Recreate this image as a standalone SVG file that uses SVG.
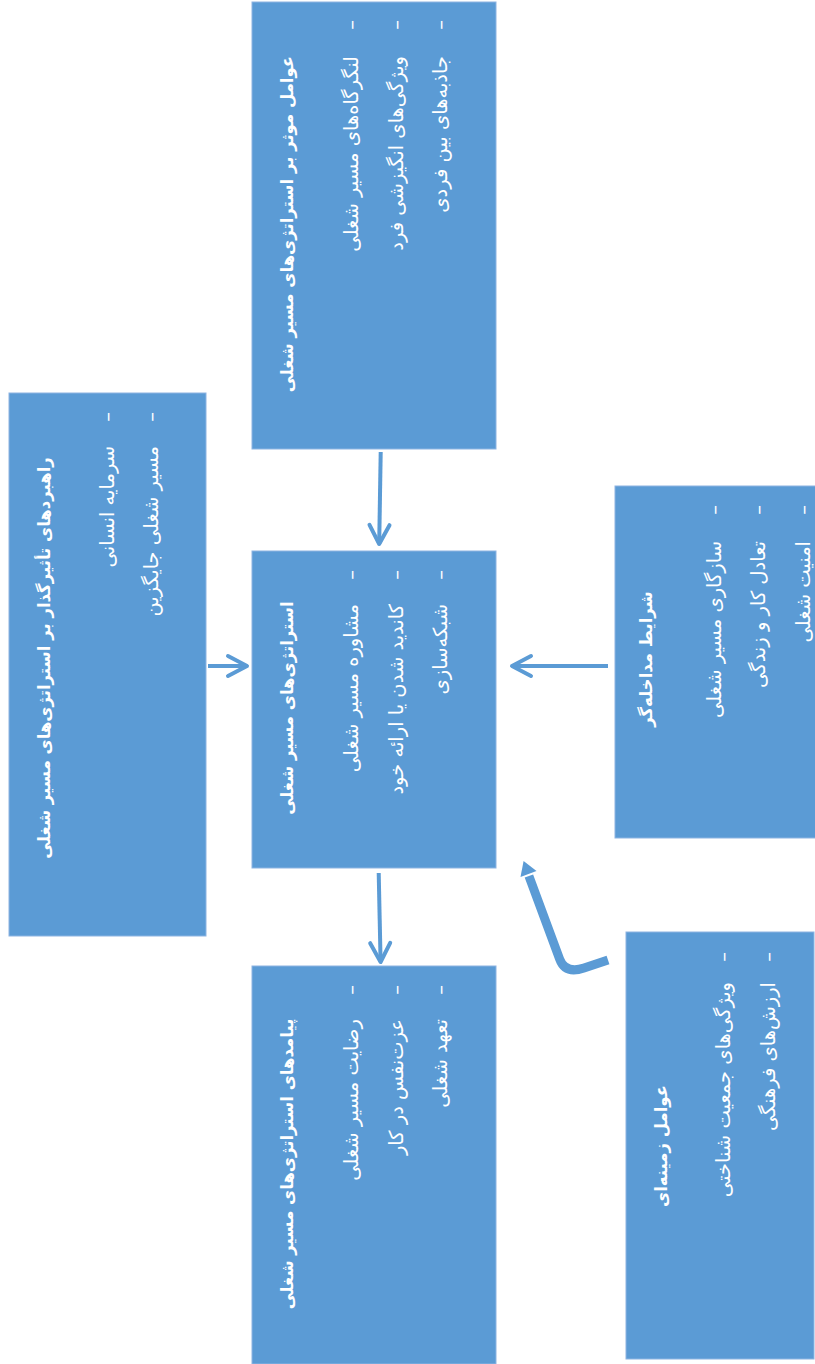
<svg xmlns="http://www.w3.org/2000/svg" width="815" height="1364" viewBox="0 0 815 1364">
<style>
.box{fill:#5B9BD5;stroke:#8DB4E2;stroke-width:1}
.t{font-family:"DejaVu Sans",sans-serif;fill:#fff;font-size:16.5px;font-weight:bold;text-anchor:middle}
.b{font-family:"DejaVu Sans",sans-serif;fill:#fff;font-size:19.5px;text-anchor:end}
.c{fill:none;stroke:#5B9BD5;stroke-width:4}
</style>
<defs>
<marker id="open" markerUnits="userSpaceOnUse" markerWidth="30" markerHeight="30" refX="20" refY="11" orient="auto" overflow="visible">
<path d="M1,1 L20,11 L1,21" fill="none" stroke="#5B9BD5" stroke-width="4" stroke-linecap="round" stroke-linejoin="round"/>
</marker>
</defs>
<rect width="815" height="1364" fill="#fff"/>

<g id="connectors">
<path class="c" d="M380.7,452 L379.2,544" marker-end="url(#open)"/>
<path class="c" d="M378.7,873 L380.6,962" marker-end="url(#open)"/>
<path class="c" d="M208,666 L247,666" marker-end="url(#open)"/>
<path class="c" d="M608,666 L512,666" marker-end="url(#open)"/>
<path d="M608,960 L584,968 Q565.2,974.3 559.6,959 L528.9,876" fill="none" stroke="#5B9BD5" stroke-width="9"/>
<polygon points="523.6,860.9 536.5,871 520.5,877" fill="#5B9BD5"/>
</g>

<g id="node-a">
<rect class="box" x="252" y="2" width="244" height="447"/>
<text class="t" transform="translate(293,224) rotate(-90)">عوامل موثر بر استراتژی‌های مسیر شغلی</text>
<text class="b" transform="translate(358,20) rotate(-90)">–</text>
<text class="b" transform="translate(403,20) rotate(-90)">–</text>
<text class="b" transform="translate(447,20) rotate(-90)">–</text>
<text class="b" transform="translate(358,56) rotate(-90)">لنگرگاه‌های مسیر شغلی</text>
<text class="b" transform="translate(403,56) rotate(-90)">ویژگی‌های انگیزشی فرد</text>
<text class="b" transform="translate(447,56) rotate(-90)">جاذبه‌های بین فردی</text>
</g>

<g id="node-b">
<rect class="box" x="9" y="393" width="197" height="543"/>
<text class="t" transform="translate(50,658) rotate(-90)">راهبردهای تأثیرگذار بر استراتژی‌های مسیر شغلی</text>
<text class="b" transform="translate(114,412) rotate(-90)">–</text>
<text class="b" transform="translate(158,412) rotate(-90)">–</text>
<text class="b" transform="translate(114,446) rotate(-90)">سرمایه انسانی</text>
<text class="b" transform="translate(158,446) rotate(-90)">مسیر شغلی جایگزین</text>
</g>

<g id="node-c">
<rect class="box" x="252" y="551" width="244" height="317"/>
<text class="t" transform="translate(293,708) rotate(-90)">استراتژی‌های مسیر شغلی</text>
<text class="b" transform="translate(358,570) rotate(-90)">–</text>
<text class="b" transform="translate(403,570) rotate(-90)">–</text>
<text class="b" transform="translate(447,570) rotate(-90)">–</text>
<text class="b" transform="translate(358,604) rotate(-90)">مشاوره مسیر شغلی</text>
<text class="b" transform="translate(403,604) rotate(-90)">کاندید شدن یا ارائه خود</text>
<text class="b" transform="translate(447,604) rotate(-90)">شبکه‌سازی</text>
</g>

<g id="node-d">
<rect class="box" x="252" y="966" width="244" height="398"/>
<text class="t" transform="translate(293,1164) rotate(-90)">پیامدهای استراتژی‌های مسیر شغلی</text>
<text class="b" transform="translate(358,985) rotate(-90)">–</text>
<text class="b" transform="translate(403,985) rotate(-90)">–</text>
<text class="b" transform="translate(447,985) rotate(-90)">–</text>
<text class="b" transform="translate(358,1019) rotate(-90)">رضایت مسیر شغلی</text>
<text class="b" transform="translate(403,1019) rotate(-90)">عزت‌نفس در کار</text>
<text class="b" transform="translate(447,1019) rotate(-90)">تعهد شغلی</text>
</g>

<g id="node-e">
<rect class="box" x="615" y="486" width="201" height="352"/>
<text class="t" transform="translate(652,659) rotate(-90)">شرایط مداخله‌گر</text>
<text class="b" transform="translate(721,505) rotate(-90)">–</text>
<text class="b" transform="translate(765,505) rotate(-90)">–</text>
<text class="b" transform="translate(810,505) rotate(-90)">–</text>
<text class="b" transform="translate(721,541) rotate(-90)">سازگاری مسیر شغلی</text>
<text class="b" transform="translate(765,541) rotate(-90)">تعادل کار و زندگی</text>
<text class="b" transform="translate(810,541) rotate(-90)">امنیت شغلی</text>
</g>

<g id="node-f">
<rect class="box" x="626" y="932" width="188" height="427"/>
<text class="t" transform="translate(667,1146) rotate(-90)">عوامل زمینه‌ای</text>
<text class="b" transform="translate(730,952) rotate(-90)">–</text>
<text class="b" transform="translate(775,952) rotate(-90)">–</text>
<text class="b" transform="translate(730,982) rotate(-90)">ویژگی‌های جمعیت شناختی</text>
<text class="b" transform="translate(775,982) rotate(-90)">ارزش‌های فرهنگی</text>
</g>
</svg>
